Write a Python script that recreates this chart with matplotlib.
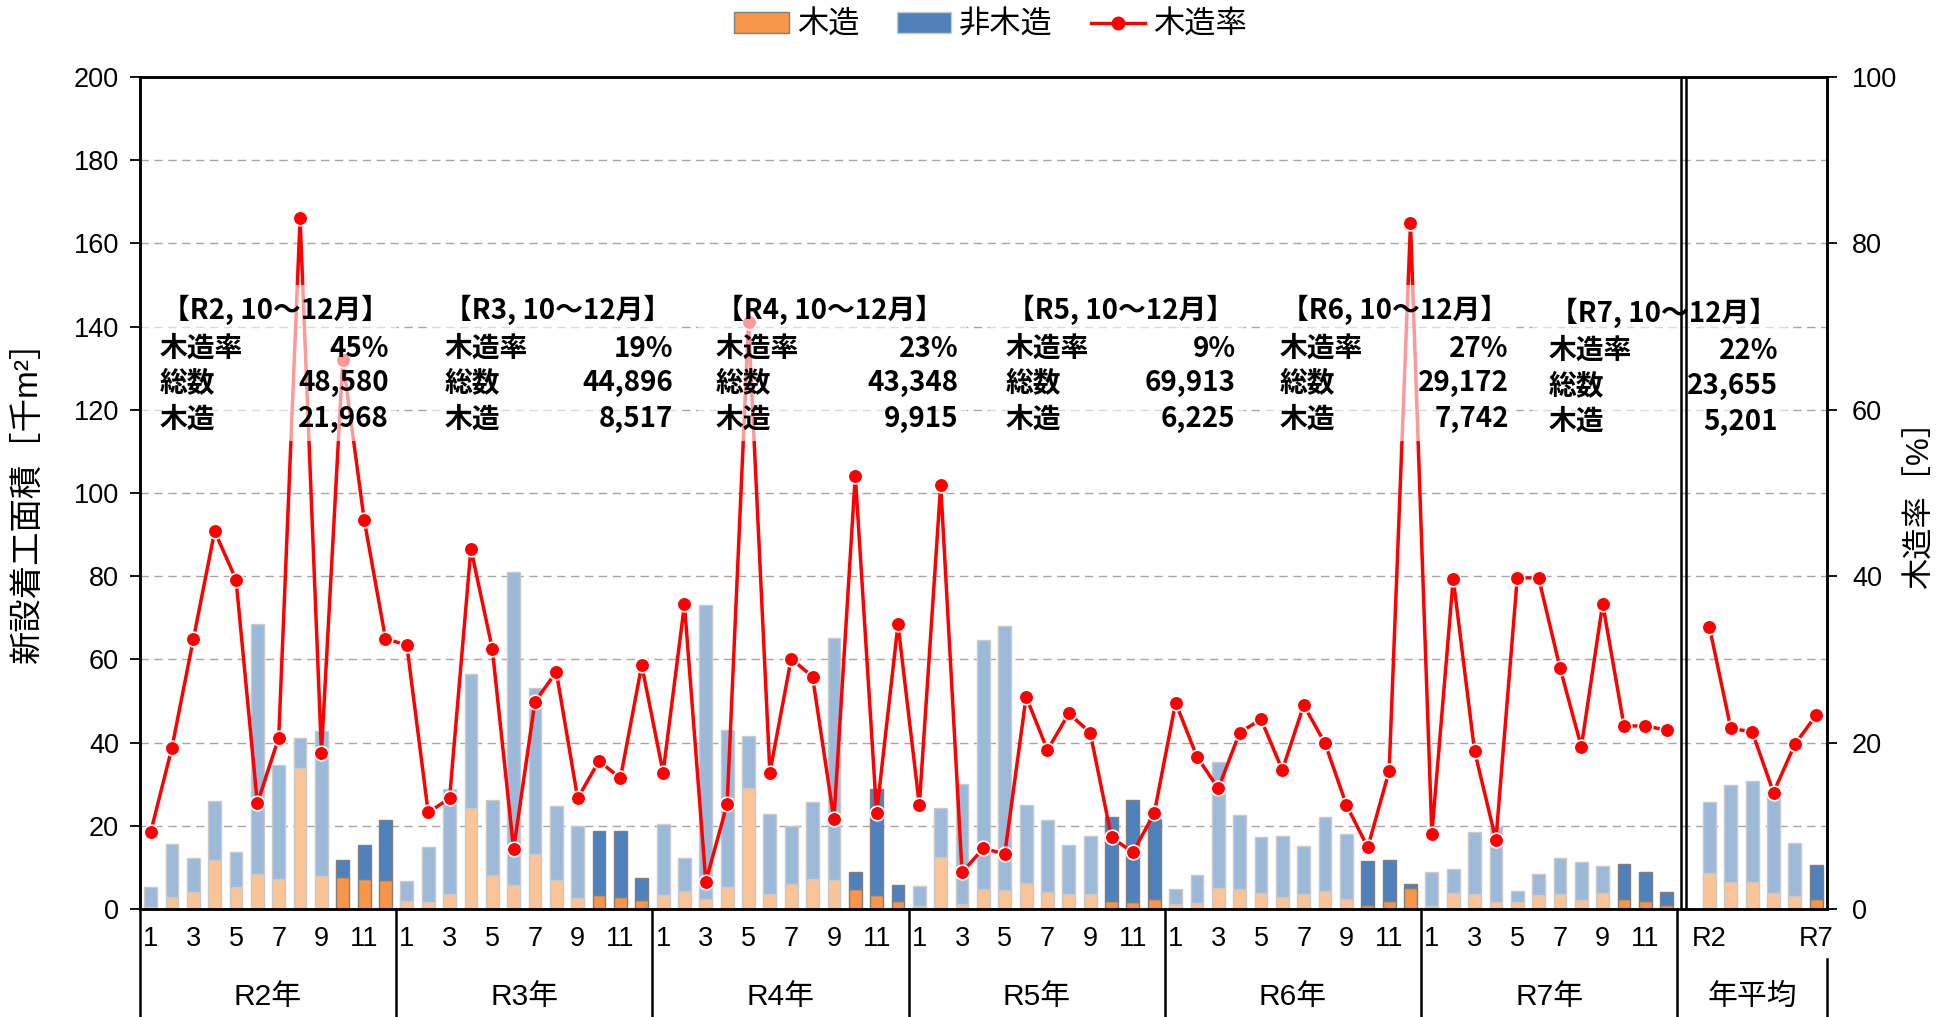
import numpy as np
import matplotlib.pyplot as plt
import matplotlib.transforms as mtransforms
from matplotlib.patches import Patch, Rectangle
from matplotlib.lines import Line2D

plt.rcParams['font.family'] = ['Liberation Sans', 'Noto Sans CJK JP', 'DejaVu Sans']

# --- data (千m2 / %) ---
years = ['R2', 'R3', 'R4', 'R5', 'R6', 'R7']
month_labels = ['1', '', '3', '', '5', '', '7', '', '9', '', '11', '']
avg_labels = ['R2', '', '', '', '', 'R7']

wood_r2 = [0.5, 3.0, 4.0, 11.7, 5.4, 8.5, 7.1, 34.0, 7.9, 7.8, 7.2, 7.0]
wood_r3 = [2.0, 1.7, 3.7, 24.3, 8.1, 5.8, 13.1, 6.9, 2.6, 3.3, 3.0, 2.2]
wood_r4 = [3.3, 4.4, 2.4, 5.3, 29.1, 3.7, 6.0, 7.1, 6.9, 4.7, 3.3, 2.0]
wood_r5 = [0.7, 12.4, 1.3, 4.7, 4.5, 6.3, 4.1, 3.6, 3.7, 1.9, 1.8, 2.5]
wood_r6 = [1.2, 1.5, 5.1, 4.8, 3.9, 2.9, 3.7, 4.4, 2.3, 0.9, 1.9, 5.0]
wood_r7 = [0.8, 3.8, 3.5, 1.6, 1.7, 3.4, 3.6, 2.2, 3.8, 2.4, 1.9, 0.9]

nonwood_r2 = [4.9, 12.7, 8.3, 14.3, 8.3, 59.9, 27.5, 7.1, 34.8, 4.0, 8.1, 14.5]
nonwood_r3 = [4.7, 13.2, 25.1, 32.1, 18.2, 75.2, 40.1, 17.9, 17.3, 15.4, 15.7, 5.3]
nonwood_r4 = [17.1, 7.8, 70.6, 37.7, 12.4, 19.1, 13.9, 18.5, 58.3, 4.2, 25.5, 3.8]
nonwood_r5 = [4.9, 11.9, 28.7, 60.0, 63.5, 18.7, 17.4, 11.7, 13.9, 20.2, 24.5, 19.2]
nonwood_r6 = [3.5, 6.6, 30.3, 17.7, 13.3, 14.7, 11.4, 17.6, 15.8, 10.7, 9.8, 1.1]
nonwood_r7 = [8.1, 5.9, 15.0, 18.0, 2.6, 5.1, 8.7, 9.1, 6.5, 8.5, 6.9, 3.3]

rate_r2 = [9.2, 19.4, 32.4, 45.4, 39.6, 12.7, 20.6, 83.0, 18.8, 66.0, 46.8, 32.5]
rate_r3 = [31.7, 11.6, 13.3, 43.3, 31.3, 7.2, 24.9, 28.5, 13.3, 17.8, 15.7, 29.3]
rate_r4 = [16.4, 36.6, 3.3, 12.6, 70.5, 16.4, 30.1, 27.9, 10.8, 52.1, 11.5, 34.2]
rate_r5 = [12.5, 51.0, 4.4, 7.3, 6.6, 25.5, 19.1, 23.5, 21.2, 8.6, 6.8, 11.5]
rate_r6 = [24.8, 18.3, 14.5, 21.2, 22.8, 16.7, 24.5, 19.9, 12.5, 7.4, 16.6, 82.4]
rate_r7 = [9.0, 39.7, 19.0, 8.3, 39.8, 39.8, 29.0, 19.5, 36.7, 22.0, 22.0, 21.5]

wood_avg = [8.7, 6.4, 6.5, 3.9, 3.1, 2.5]
nonwood_avg = [17.0, 23.3, 24.2, 24.0, 12.7, 8.1]
rate_avg = [33.9, 21.7, 21.3, 14.0, 19.8, 23.3]

q4_rate = ['45%', '19%', '23%', '9%', '27%', '22%']
q4_total = ['48,580', '44,896', '43,348', '69,913', '29,172', '23,655']
q4_wood = ['21,968', '8,517', '9,915', '6,225', '7,742', '5,201']

# --- styles ---
ORANGE, ORANGE_L = '#F79646', '#FAC497'
BLUE, BLUE_L = '#4F81BD', '#9DB9DA'
EDGE, EDGE_L = '#7F7F7F', '#C9C9C9'
RED = '#FF0000'

wood = np.concatenate([wood_r2, wood_r3, wood_r4, wood_r5, wood_r6, wood_r7])
nonwood = np.concatenate([nonwood_r2, nonwood_r3, nonwood_r4, nonwood_r5, nonwood_r6, nonwood_r7])
rate = np.concatenate([rate_r2, rate_r3, rate_r4, rate_r5, rate_r6, rate_r7])
x_m = np.arange(len(wood))
x_a = np.arange(len(wood_avg)) + len(wood) + 1

hi_m = np.array([(i % 12) >= 9 for i in x_m])
hi_a = np.array([i == len(wood_avg) - 1 for i in range(len(wood_avg))])

fig = plt.figure(figsize=(19.46, 10.17), dpi=100)
ax = fig.add_axes([0.0719, 0.1062, 0.8669, 0.8181])
ax2 = ax.twinx()

def stack(xs, w, nw, hi):
    ax.bar(xs, w, width=0.6, color=[ORANGE if h else ORANGE_L for h in hi],
           edgecolor=[EDGE if h else EDGE_L for h in hi], linewidth=1, zorder=2)
    ax.bar(xs, nw, bottom=w, width=0.6, color=[BLUE if h else BLUE_L for h in hi],
           edgecolor=[EDGE if h else EDGE_L for h in hi], linewidth=1, zorder=2)

stack(x_m, wood, nonwood, hi_m)
stack(x_a, np.array(wood_avg), np.array(nonwood_avg), hi_a)

line_kw = dict(color=RED, lw=2.5, marker='o', ms=10.5, mfc=RED, mec='white', mew=1.2, zorder=3)
ax2.plot(x_m, rate, **line_kw)
ax2.plot(x_a, rate_avg, **line_kw)

ax.set_xlim(-0.5, len(wood) + len(wood_avg) + 0.5)
ax.set_ylim(0, 200)
ax2.set_ylim(0, 100)
ax.set_yticks(np.arange(0, 201, 20))
ax2.set_yticks(np.arange(0, 101, 20))
ax.yaxis.grid(True, color='#A6A6A6', linestyle=(0, (6, 4)), lw=1)
ax.set_axisbelow(True)

xt = list(x_m) + list(x_a)
xl = month_labels * len(years) + avg_labels
keep = [i for i, s in enumerate(xl) if s]
ax.set_xticks([xt[i] for i in keep])
ax.set_xticklabels([xl[i] for i in keep])
ax.tick_params(axis='x', length=0, pad=12, labelsize=19.5)
ax.tick_params(axis='y', direction='out', length=7, width=1.3, pad=8, labelsize=19.5)
ax2.tick_params(axis='y', direction='out', length=7, width=1.3, pad=11, labelsize=19.5)
for a in (ax, ax2):
    for sp in a.spines.values():
        sp.set_color('black')
        sp.set_linewidth(1.8)

# separator between monthly and average parts
for xv in (71.65, 71.92):
    ax2.axvline(xv, color='black', lw=1.8, zorder=10)

# category group lines and labels below the axis
bt = mtransforms.blended_transform_factory(ax.transData, ax.transAxes)
for xv in [-0.5, 11.5, 23.5, 35.5, 47.5, 59.5, 71.5]:
    ax.plot([xv, xv], [0, -0.15], transform=bt, color='black', lw=1.8, clip_on=False)
ax.plot([78.5, 78.5], [-0.06, -0.15], transform=bt, color='black', lw=1.8, clip_on=False)
for k, yr in enumerate(years):
    ax.text(12 * k + 5.5, -0.106, yr + '年', transform=bt, ha='center', va='center', fontsize=21.5)
ax.text(75.0, -0.106, '年平均', transform=bt, ha='center', va='center', fontsize=21.5)

# 10-12月 summary boxes
title_x = [5.87, 19.07, 31.8, 45.4, 58.26, 70.87]
label_x = [0.41, 13.78, 26.45, 40.06, 52.85, 65.47]
value_x = [11.16, 24.48, 37.85, 50.81, 63.6, 76.22]
row_y = [144.0, 134.7, 126.4, 117.7]
tk = dict(transform=ax.transData, fontsize=20, fontweight='bold',
          family=['Noto Sans CJK JP'], va='center', zorder=8)
for k, yr in enumerate(years):
    dy = -0.6 if k == len(years) - 1 else 0
    ax2.add_patch(Rectangle((label_x[k] - 0.8, 112.5), value_x[k] - label_x[k] + 1.2, 37.5,
                            transform=ax.transData, facecolor='white', alpha=0.6,
                            edgecolor='none', zorder=7))
    ax2.text(title_x[k], row_y[0] + dy, '【' + yr + ', 10～12月】', ha='center', **tk)
    for r, (lab, val) in enumerate(zip(['木造率', '総数', '木造'],
                                        [q4_rate[k], q4_total[k], q4_wood[k]])):
        ax2.text(label_x[k], row_y[r + 1] + dy, lab, ha='left', **tk)
        ax2.text(value_x[k], row_y[r + 1] + dy, val, ha='right', **tk)

fig.text(0.0144, 0.514, '新設着工面積［千m²］', rotation=90, ha='center', va='center', fontsize=24)
fig.text(0.987, 0.511, '木造率［%］', rotation=90, ha='center', va='center', fontsize=22.5)

handles = [Patch(facecolor=ORANGE, edgecolor=EDGE),
           Patch(facecolor=BLUE, edgecolor=EDGE_L),
           Line2D([], [], color=RED, lw=2.4, marker='o', ms=9, mfc=RED, mec=RED)]
fig.legend(handles, ['木造', '非木造', '木造率'], loc='center', bbox_to_anchor=(0.509, 0.975),
           ncol=3, frameon=False, fontsize=22.5, handlelength=1.75, handleheight=0.65,
           handletextpad=0.25, columnspacing=1.2)

fig.savefig('out.png', dpi=100)
